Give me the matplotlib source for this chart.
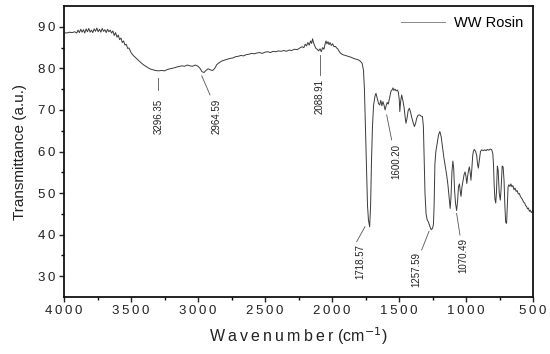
import numpy as np
import matplotlib
matplotlib.use('Agg')
from matplotlib import pyplot as plt
from matplotlib.ticker import FuncFormatter

plt.rcParams['font.family'] = ['Liberation Sans', 'DejaVu Sans']

# FTIR spectrum
wavenumber = [4000, 3980, 3960, 3940, 3920, 3905, 3895, 3885, 3875, 3865, 3855, 3845, 3835, 3825,
              3815, 3805, 3795, 3785, 3775, 3765, 3755, 3745, 3735, 3725, 3715, 3705, 3695, 3685,
              3675, 3665, 3655, 3645, 3635, 3625, 3615, 3605, 3595, 3585, 3575, 3565, 3555, 3545,
              3535, 3525, 3515, 3500, 3480, 3460, 3440, 3420, 3400, 3380, 3360, 3340, 3320, 3296,
              3270, 3250, 3230, 3210, 3180, 3150, 3120, 3100, 3080, 3060, 3040, 3020, 3000, 2985,
              2970, 2955, 2940, 2925, 2905, 2890, 2875, 2860, 2840, 2820, 2800, 2780, 2760, 2740,
              2720, 2700, 2680, 2660, 2640, 2620, 2600, 2580, 2560, 2540, 2520, 2500, 2480, 2460,
              2440, 2420, 2400, 2380, 2360, 2340, 2320, 2300, 2280, 2260, 2240, 2225, 2210, 2200,
              2190, 2180, 2170, 2160, 2152, 2145, 2138, 2130, 2120, 2110, 2100, 2089, 2080, 2070,
              2060, 2052, 2045, 2038, 2030, 2022, 2015, 2005, 1995, 1985, 1975, 1965, 1955, 1945,
              1935, 1920, 1900, 1880, 1860, 1840, 1820, 1800, 1785, 1775, 1765, 1758, 1750, 1742,
              1735, 1728, 1719, 1712, 1705, 1698, 1690, 1680, 1672, 1662, 1652, 1644, 1636, 1628,
              1620, 1612, 1604, 1596, 1588, 1580, 1570, 1560, 1552, 1545, 1538, 1530, 1522, 1512,
              1505, 1498, 1494, 1488, 1480, 1472, 1462, 1455, 1448, 1440, 1432, 1423, 1414, 1405,
              1395, 1385, 1376, 1368, 1358, 1345, 1335, 1325, 1318, 1312, 1306, 1298, 1290, 1280,
              1270, 1260, 1250, 1243, 1238, 1232, 1225, 1215, 1205, 1195, 1185, 1175, 1165, 1155,
              1145, 1135, 1125, 1118, 1112, 1105, 1098, 1092, 1085, 1078, 1070, 1063, 1056, 1049,
              1043, 1037, 1030, 1022, 1014, 1007, 1000, 994, 988, 981, 975, 969, 963, 956,
              950, 945, 938, 928, 920, 914, 908, 900, 892, 883, 870, 860, 850, 840,
              830, 818, 808, 800, 795, 790, 784, 778, 773, 766, 760, 752, 744, 738,
              730, 723, 716, 710, 704, 697, 692, 686, 680, 672, 665, 657, 650, 642,
              634, 626, 618, 610, 602, 594, 586, 578, 570, 562, 555, 548, 541, 534,
              527, 520, 512, 505, 500]
transmittance = [88.6, 88.5, 88.7, 88.6, 88.8, 88.5, 89.2, 88.6, 89.4, 88.7, 89.3, 88.5, 89.5, 88.8,
                 89.6, 88.7, 89.2, 88.6, 89.5, 88.9, 89.7, 88.8, 89.4, 88.7, 89.6, 88.9, 89.3, 88.6,
                 89.4, 88.8, 89.2, 88.5, 89.0, 87.9, 88.6, 87.5, 88.0, 86.9, 87.3, 86.2, 86.6, 85.6,
                 85.8, 84.8, 84.9, 83.8, 83.0, 82.4, 81.8, 81.2, 80.7, 80.3, 79.9, 79.7, 79.5, 79.4,
                 79.5, 79.4, 79.7, 79.9, 80.1, 80.4, 80.6, 80.5, 80.8, 80.6, 80.5, 80.8, 80.5, 80.0,
                 79.2, 79.0, 79.5, 79.9, 79.6, 79.5, 80.0, 80.9, 81.4, 81.8, 82.0, 82.2, 82.4, 82.5,
                 82.8, 82.9, 83.1, 83.0, 83.3, 83.4, 83.6, 83.5, 83.7, 83.8, 83.6, 83.9, 84.0, 83.8,
                 84.1, 84.0, 84.2, 84.1, 84.3, 84.1, 84.4, 84.3, 84.6, 84.5, 84.9, 85.2, 85.0, 85.8,
                 85.4, 86.2, 85.6, 86.6, 86.0, 87.1, 86.2, 85.5, 84.8, 84.6, 84.2, 84.7, 84.0, 85.0,
                 84.6, 85.8, 86.6, 85.9, 86.4, 85.7, 86.2, 85.5, 85.9, 85.2, 85.3, 84.9, 84.6, 84.0,
                 83.6, 83.3, 83.1, 82.9, 82.7, 82.4, 82.2, 82.0, 81.6, 81.2, 79.5, 75.0, 65.0, 55.0,
                 47.0, 43.5, 41.9, 47.0, 58.0, 66.0, 71.0, 73.2, 74.0, 72.8, 71.5, 71.2, 72.3, 71.0,
                 72.0, 71.2, 70.0, 71.0, 71.8, 71.4, 73.0, 74.5, 74.8, 75.3, 74.7, 75.0, 74.6, 74.8,
                 74.3, 72.5, 69.6, 72.0, 73.6, 72.4, 70.6, 68.5, 66.8, 68.0, 69.8, 70.4, 69.5, 68.2,
                 67.0, 66.0, 66.8, 68.0, 68.7, 68.8, 68.5, 68.4, 66.0, 58.0, 50.0, 45.0, 43.6, 43.0,
                 42.0, 41.2, 41.5, 42.5, 47.0, 57.0, 60.0, 62.0, 64.0, 64.8, 63.5, 61.0, 58.5, 56.5,
                 54.5, 52.0, 48.5, 46.3, 49.0, 55.0, 57.7, 56.0, 50.5, 47.5, 45.8, 48.0, 51.5, 52.2,
                 50.5, 49.2, 51.5, 53.0, 54.5, 55.1, 54.0, 52.3, 54.0, 55.5, 56.3, 55.0, 53.1, 56.0,
                 59.0, 60.0, 60.5, 60.0, 59.0, 57.0, 56.0, 58.0, 60.0, 60.4, 60.2, 60.4, 60.2, 60.5,
                 60.3, 60.6, 60.4, 59.5, 57.0, 52.0, 48.5, 47.6, 50.0, 56.5, 55.5, 50.0, 48.3, 51.0,
                 56.5, 56.3, 53.0, 47.0, 43.0, 42.7, 47.0, 51.5, 52.0, 51.6, 52.2, 51.5, 51.8, 50.8,
                 51.2, 50.4, 50.6, 49.8, 49.9, 49.2, 48.8, 48.4, 47.8, 47.6, 47.0, 46.8, 46.2, 46.4,
                 45.6, 45.9, 45.3, 45.6, 45.9]

# peak labels: text, leader line start/end (wavenumber, T), text anchor (wavenumber, top T)
peak_labels = ['3296.35', '2964.59', '2088.91', '1600.20', '1718.57', '1257.59', '1070.49']
line_x0 = [3296, 2972, 2089, 1592, 1754, 1276, 1070]
line_y0 = [77.7, 78.2, 83.3, 68.8, 41.9, 40.8, 45.1]
line_x1 = [3296, 2910, 2089, 1555, 1816, 1331, 1045]
line_y1 = [74.8, 73.6, 78.4, 62.8, 38.3, 36.3, 39.9]
text_x = [3296, 2861, 2095, 1522, 1790, 1368, 1020]
text_y = [72.6, 72.6, 77.4, 61.8, 37.6, 35.9, 39.3]


def spaced(v, pos):
    # Origin-style letter spacing on tick labels
    return '\u2009'.join(str(int(v)))


fig = plt.figure(figsize=(5.5, 3.54), dpi=100)
ax = fig.add_axes([64 / 550, 1 - 297 / 354, 469 / 550, 291 / 354])

ax.plot(wavenumber, transmittance, color='#3a3a3a', linewidth=0.7, label='WW Rosin')

for lab, x0, y0, x1, y1, tx, ty in zip(peak_labels, line_x0, line_y0, line_x1, line_y1, text_x, text_y):
    ax.plot([x0, x1], [y0, y1], color='#555555', linewidth=0.6)
    ax.text(tx, ty, lab, rotation=90, ha='center', va='top', fontsize=7, color='#222222')

ax.set_xlim(4000, 500)
ax.set_ylim(25, 95)
ax.set_xticks(np.arange(4000, 499, -500))
ax.set_xticks(np.arange(3750, 500, -500), minor=True)
ax.set_yticks(np.arange(30, 91, 10))
ax.set_yticks(np.arange(35, 95, 10), minor=True)
ax.xaxis.set_major_formatter(FuncFormatter(spaced))
ax.yaxis.set_major_formatter(FuncFormatter(spaced))
ax.tick_params(which='major', direction='out', length=3.5, width=1.0, labelsize=9.5,
               colors='#222222', pad=2.5)
ax.tick_params(which='minor', direction='out', length=2.5, width=1.0)
for s in ax.spines.values():
    s.set_linewidth(1.3)
    s.set_color('#111111')

ax.set_xlabel('W\u2009a\u2009v\u2009e\u2009n\u2009u\u2009m\u2009b\u2009e\u2009r (cm$^{-1}$)',
              fontsize=11.5, color='#222222', labelpad=6)
ax.set_ylabel('Transmittance (a.u.)', fontsize=11, color='#222222', labelpad=8)

leg = ax.legend(loc='upper right', frameon=False, fontsize=10.5, handlelength=3,
                borderaxespad=0.3, handletextpad=0.6)
leg.get_lines()[0].set_color('#888888')

plt.savefig('out.png', dpi=100)
